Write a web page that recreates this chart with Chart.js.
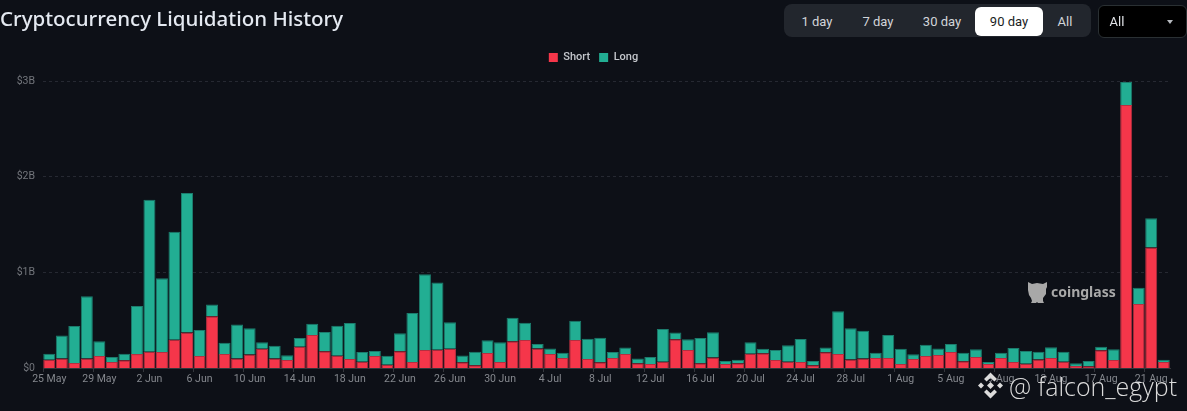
<!DOCTYPE html>
<html><head><meta charset="utf-8">
<script src="https://cdn.jsdelivr.net/npm/chart.js@4"></script>
<style>
html,body{margin:0;padding:0;background:#0d1017;width:1187px;height:411px;overflow:hidden}
#wrap{position:relative;width:1187px;height:411px;font-family:Inter,Roboto,sans-serif}
canvas{position:absolute;left:0;top:0}
.t{position:absolute;white-space:nowrap}
#title{left:0;top:4px;font:500 20.5px "Noto Sans",Inter,sans-serif;color:#e4e9f1}
#panel{position:absolute;left:784px;top:4px;width:307px;height:33px;background:#22262d;border-radius:8px}
#active{position:absolute;left:975px;top:7px;width:68px;height:29px;background:#fff;border-radius:6px}
.b{font:400 13px Roboto,sans-serif;color:#d2d5da;transform:translateX(-50%);top:14px}
#dd{position:absolute;left:1098px;top:5px;width:87px;height:31px;background:#000;border:1px solid #2a3033;border-radius:6px}
#caret{position:absolute;left:1167px;top:20px;width:0;height:0;border-left:3.5px solid transparent;border-right:3.5px solid transparent;border-top:4px solid #b8bbc0}
#cg{left:1051px;top:282px;font:700 14px "Noto Sans",sans-serif;color:#a8a8a8;letter-spacing:0}
#wm{left:1009px;top:369px;font:300 25px "Open Sans",sans-serif;color:#dcdcdc}
svg{position:absolute}
</style></head><body>
<div id="wrap">
<canvas id="c" width="1187" height="411"></canvas>
<div id="title" class="t">Cryptocurrency Liquidation History</div>
<div id="panel"></div><div id="active"></div>
<div class="t b" style="left:817px">1 day</div>
<div class="t b" style="left:878px">7 day</div>
<div class="t b" style="left:942px">30 day</div>
<div class="t b" style="left:1009px;color:#1a1d22">90 day</div>
<div class="t b" style="left:1065px">All</div>
<div id="dd"></div>
<div class="t b" style="left:1117px;color:#e0e2e6">All</div>
<div id="caret"></div>
<svg style="left:1026px;top:280px" width="23" height="25" viewBox="0 0 23 25"><path fill="#a8a8a8" d="M2 2l4 2 5-1 6 1 4-2 0 5-1 2 0 5-3 4 0 3 1 2-6 0-1-1-1 1-5 0 1-2-1-3-2-3-1-5z"/></svg>
<div id="cg" class="t">coinglass</div>
<svg style="left:977px;top:372px" width="27" height="27" viewBox="0 0 27 27"><g fill="#dcdcdc"><path d="M13.5 0.5l6.500 6.500-2.600 2.600-3.900-3.900-3.900 3.900-2.600-2.600z"/><path d="M13.5 26.500l6.500-6.500-2.600-2.600-3.900 3.900-3.900-3.900-2.600 2.600z"/><path d="M4 10.500l3 3-3 3-3-3z"/><path d="M23 10.500l3 3-3 3-3-3z"/><path d="M13.500 10l3.500 3.500-3.500 3.500-3.500-3.500z"/></g></svg>
<div id="wm" class="t">@ falcon_egypt</div>
</div>
<script>
const categories = ["25 May","26 May","27 May","28 May","29 May","30 May","31 May","1 Jun","2 Jun","3 Jun","4 Jun","5 Jun","6 Jun","7 Jun","8 Jun","9 Jun","10 Jun","11 Jun","12 Jun","13 Jun","14 Jun","15 Jun","16 Jun","17 Jun","18 Jun","19 Jun","20 Jun","21 Jun","22 Jun","23 Jun","24 Jun","25 Jun","26 Jun","27 Jun","28 Jun","29 Jun","30 Jun","1 Jul","2 Jul","3 Jul","4 Jul","5 Jul","6 Jul","7 Jul","8 Jul","9 Jul","10 Jul","11 Jul","12 Jul","13 Jul","14 Jul","15 Jul","16 Jul","17 Jul","18 Jul","19 Jul","20 Jul","21 Jul","22 Jul","23 Jul","24 Jul","25 Jul","26 Jul","27 Jul","28 Jul","29 Jul","30 Jul","31 Jul","1 Aug","2 Aug","3 Aug","4 Aug","5 Aug","6 Aug","7 Aug","8 Aug","9 Aug","10 Aug","11 Aug","12 Aug","13 Aug","14 Aug","15 Aug","16 Aug","17 Aug","18 Aug","19 Aug","20 Aug","21 Aug","22 Aug"];
// values in billions of USD
const shortValues = [.087,.10,.052,.10,.125,.063,.08,.146,.17,.167,.296,.37,.125,.54,.146,.10,.14,.20,.10,.084,.223,.345,.174,.129,.094,.066,.125,.035,.175,.063,.188,.19,.20,.06,.03,.157,.063,.28,.293,.205,.146,.105,.293,.094,.06,.105,.146,.05,.042,.066,.30,.188,.05,.11,.042,.05,.15,.153,.084,.066,.063,.028,.164,.146,.09,.10,.105,.105,.042,.094,.125,.136,.167,.07,.115,.042,.105,.063,.045,.09,.105,.066,.02,.017,.185,.084,2.75,.67,1.26,.063];
const totalValues = [.15,.34,.44,.75,.28,.115,.15,.648,1.76,.937,1.425,1.83,.397,.665,.265,.456,.415,.27,.233,.132,.314,.463,.376,.442,.47,.167,.178,.129,.362,.575,.98,.895,.477,.13,.17,.29,.268,.526,.474,.25,.205,.16,.495,.307,.317,.167,.213,.10,.115,.408,.37,.30,.314,.373,.073,.087,.268,.20,.188,.237,.303,.073,.213,.592,.415,.39,.16,.345,.20,.143,.244,.205,.25,.16,.195,.063,.16,.21,.178,.17,.216,.17,.05,.073,.223,.195,2.99,.84,1.565,.087];
const longValues = totalValues.map((t,i)=>+(t-shortValues[i]).toFixed(3));
const yTicks = [0,1,2,3];
const yLabels = ["$0","$1B","$2B","$3B"];

new Chart(document.getElementById('c'),{
  type:'bar',
  data:{labels:categories,datasets:[
    {label:'Short',data:shortValues,backgroundColor:'#f5364a',borderColor:'#b52f40',borderWidth:{top:1,left:1,right:1,bottom:0},stack:'s',categoryPercentage:1,barPercentage:.96},
    {label:'Long',data:longValues,backgroundColor:'#22ae93',borderColor:'#1c7c6d',borderWidth:{top:1,left:1,right:1,bottom:0},stack:'s',categoryPercentage:1,barPercentage:.96}
  ]},
  options:{
    responsive:false,animation:false,
    layout:{padding:{top:43,right:17,left:17,bottom:0}},
    plugins:{
      legend:{display:true,position:'top',align:'center',
        labels:{color:'#c4c7cc',boxWidth:9,boxHeight:9,padding:9,font:{family:'Roboto',size:11,weight:'500'},
          generateLabels(chart){
            return Chart.defaults.plugins.legend.labels.generateLabels(chart).map(l=>({...l,strokeStyle:l.fillStyle,lineWidth:0}));
          }}},
      tooltip:{enabled:false}
    },
    scales:{
      x:{stacked:true,
        afterFit(s){s.height=43;},
        border:{color:'#33363c'},
        grid:{drawOnChartArea:false,drawTicks:true,tickLength:4,color:c=>c.index%4===0?'#33363c':'rgba(0,0,0,0)'},
        ticks:{autoSkip:false,maxRotation:0,minRotation:0,padding:1,color:'#85888e',font:{family:'Roboto',size:10.5},
          callback(v,i){return i%4===0?categories[i]:'';}}
      },
      legendGap:{axis:'x',type:'linear',position:'top',
        afterFit(s){s.height=8;},
        grid:{display:false},border:{display:false},ticks:{display:false}},
      y:{stacked:true,min:0,max:3,
        afterFit(s){s.width=26;},
        afterBuildTicks(s){s.ticks=yTicks.map(v=>({value:v}));},
        border:{display:false,dash:[3,3]},
        grid:{color:'#262932',drawTicks:false,lineWidth:c=>c.index===0?0:1},
        ticks:{padding:8,color:'#73767c',font:{family:'Roboto',size:10.5},
          callback(v){return yLabels[yTicks.indexOf(v)];}}
      }
    }
  }
});
</script>
</body></html>
